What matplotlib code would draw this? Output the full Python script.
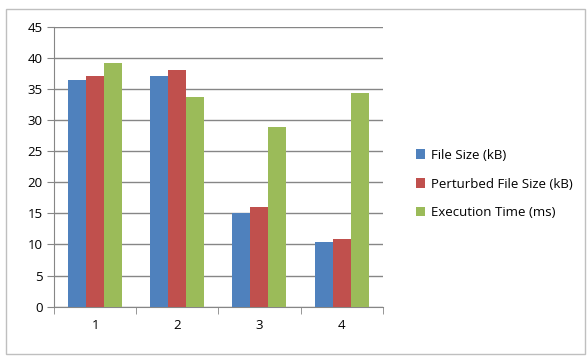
import matplotlib.pyplot as plt
import numpy as np
from matplotlib.patches import Rectangle

categories = ["1", "2", "3", "4"]
file_size = [36.4, 37.1, 15.0, 10.4]
perturbed_size = [37.1, 38.0, 16.0, 10.9]
exec_time = [39.2, 33.7, 28.9, 34.3]

series = [
    ("File Size (kB)", file_size, "#4F81BD"),
    ("Perturbed File Size (kB)", perturbed_size, "#C0504D"),
    ("Execution Time (ms)", exec_time, "#9BBB59"),
]

plt.rcParams['font.family'] = ['Open Sans', 'DejaVu Sans']

fig = plt.figure(figsize=(5.87, 3.58), dpi=100)
ax = fig.add_axes([0.092, 0.1436, 0.56, 0.7814])

x = np.arange(len(categories))
w = 0.219
for i, (name, vals, col) in enumerate(series):
    ax.bar(x + (i - 1) * w, vals, w, color=col, label=name, zorder=3)

ax.set_xlim(-0.5, len(categories) - 0.5)
ax.set_ylim(0, 45)
ax.set_yticks(range(0, 46, 5))
ax.set_xticks(x)
ax.set_xticklabels(categories)
ax.set_xticks(np.arange(-0.5, len(categories), 1), minor=True)
ax.tick_params(axis='x', which='major', length=0, pad=9, labelsize=9.5)
ax.tick_params(axis='x', which='minor', length=5, color="#868686")
ax.tick_params(axis='y', length=5, color="#868686", labelsize=9.5, pad=3)
ax.yaxis.grid(True, color="#868686", linewidth=1, zorder=0)

for s in ['top', 'right']:
    ax.spines[s].set_visible(False)
for s in ['left', 'bottom']:
    ax.spines[s].set_color("#868686")

ax.legend(loc='center left', bbox_to_anchor=(0.688, 0.486),
          bbox_transform=fig.transFigure, frameon=False,
          fontsize=9.5, handlelength=0.7, handleheight=0.7, handletextpad=0.45,
          labelspacing=1.2)

fig.patches.append(Rectangle((6 / 587, 0.01), 1 - 8 / 587, 1 - 0.01 - 9 / 358,
                             transform=fig.transFigure, fill=False,
                             edgecolor="#BFBFBF", linewidth=1))

fig.savefig("out.png")
